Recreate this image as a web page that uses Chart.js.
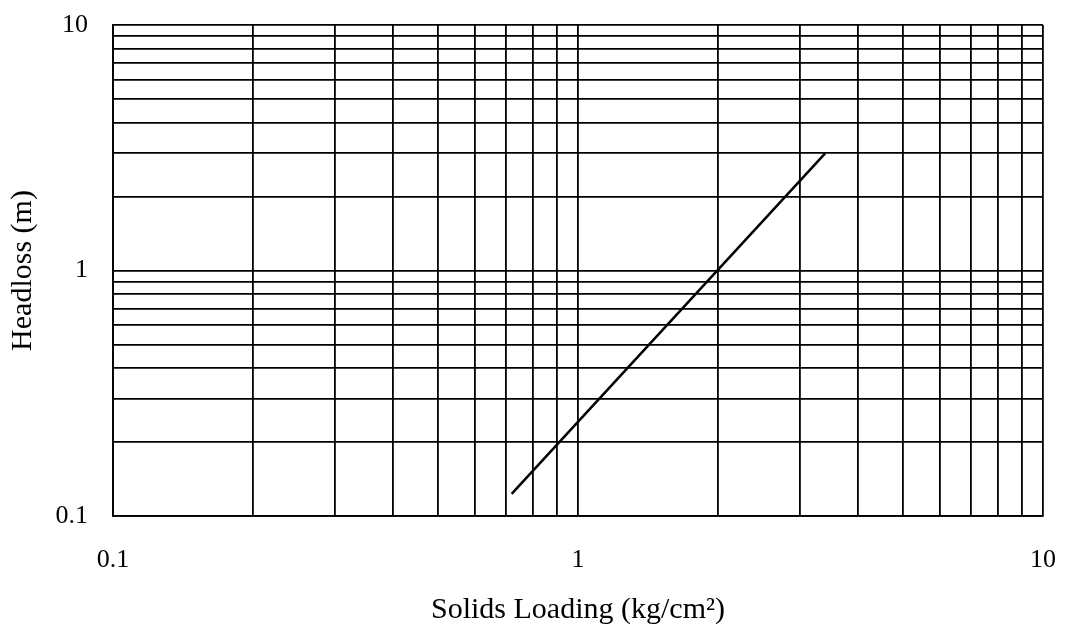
<!DOCTYPE html>
<html>
<head>
<meta charset="utf-8">
<script src="https://cdn.jsdelivr.net/npm/chart.js@4"></script>
<style>
  html, body { margin: 0; padding: 0; background: #fff; }
  #wrap { width: 1066px; height: 637px; }
</style>
</head>
<body>
<div id="wrap"><canvas id="HeadlossChart" width="1066" height="637"></canvas></div>
<script>
const solidsLoading = [0.72, 3.4];
const headloss = [0.123, 3.0];
const tickLabels = [0.1, 1, 10];
const mantissas = [1, 2, 3, 4, 5, 6, 7, 8, 9];

// grid lines at 1..9 of every decade between 0.1 and 10
const gridValues = [];
[0.1, 1].forEach((d) => mantissas.forEach((m) => gridValues.push(+(m * d).toPrecision(3))));
gridValues.push(10);

document.addEventListener("DOMContentLoaded", () => {
  const ctx = document.getElementById("HeadlossChart").getContext("2d");
  const family = "'Liberation Serif', 'Times New Roman', serif";
  const tickFont = { family: family, size: 26 };
  const titleFont = { family: family, size: 30 };
  const showOnly = (v) => (tickLabels.some((t) => Math.abs(t - v) < 1e-9) ? String(v) : "");
  const setTicks = (scale) => {
    scale.ticks = gridValues.map((v) => ({ value: v }));
  };
  // fixed axis boxes, no extra room for end labels
  const fixX = (s) => {
    s.height = 121;
    s.paddingLeft = s.paddingRight = s.paddingTop = s.paddingBottom = 0;
  };
  const fixY = (s) => {
    s.width = 113;
    s.paddingLeft = s.paddingRight = s.paddingTop = s.paddingBottom = 0;
  };

  new Chart(ctx, {
    type: "scatter",
    data: {
      datasets: [
        {
          label: "Headloss",
          data: solidsLoading.map((x, i) => ({ x: x, y: headloss[i] })),
          showLine: true,
          borderColor: "#000",
          borderWidth: 2.5,
          pointRadius: 0,
        },
      ],
    },
    options: {
      responsive: false,
      animation: false,
      layout: { padding: { left: 0, right: 23, top: 25, bottom: 0 } },
      plugins: {
        legend: { display: false },
        tooltip: { enabled: false },
      },
      scales: {
        x: {
          type: "logarithmic",
          min: 0.1,
          max: 10,
          afterBuildTicks: setTicks,
          afterFit: fixX,
          grid: { color: "#000", lineWidth: 1.8, drawTicks: false },
          border: { color: "#000", width: 1.8 },
          ticks: { color: "#000", font: tickFont, autoSkip: false, maxRotation: 0, padding: 29, callback: showOnly },
          title: { display: true, text: "Solids Loading (kg/cm²)", color: "#000", font: titleFont, padding: { top: 0, bottom: 9 } },
        },
        y: {
          type: "logarithmic",
          min: 0.1,
          max: 10,
          afterBuildTicks: setTicks,
          afterFit: fixY,
          grid: { color: "#000", lineWidth: 1.8, drawTicks: false },
          border: { color: "#000", width: 1.8 },
          ticks: { color: "#000", font: tickFont, autoSkip: false, padding: 25, callback: showOnly },
          title: { display: true, text: "Headloss (m)", color: "#000", font: titleFont, padding: { top: 5, bottom: 0 } },
        },
      },
    },
  });
});
</script>
</body>
</html>
